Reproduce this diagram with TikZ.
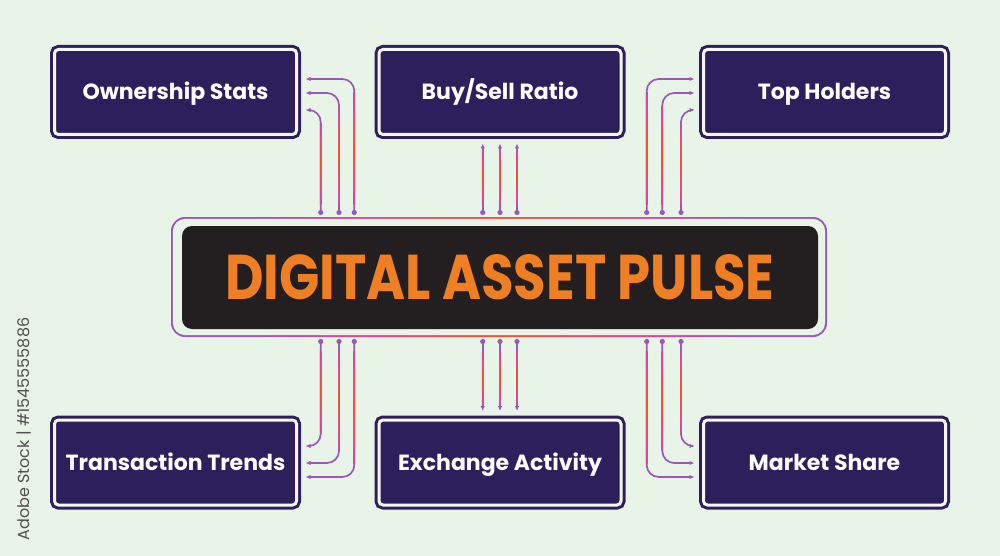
\documentclass[tikz,border=0pt]{standalone}
\usepackage{fontspec}
\usepackage{graphicx}
\setmainfont{Poppins}
\usetikzlibrary{arrows.meta,calc}
\definecolor{bg}{HTML}{E9F4E9}
\definecolor{boxc}{HTML}{2D1F5C}
\definecolor{gapc}{HTML}{F6F7F6}
\definecolor{blk}{HTML}{231F20}
\definecolor{orng}{HTML}{EF7F22}
\definecolor{cpurple}{HTML}{9B59B6}
\definecolor{cpink}{HTML}{E94590}
\definecolor{cred}{HTML}{F2552E}
\definecolor{wmc}{HTML}{505050}
\pgfdeclarehorizontalshading{frameshade}{100bp}{color(0bp)=(cpurple); color(31bp)=(cpurple); color(40bp)=(cpink); color(50bp)=(cred); color(60bp)=(cpink); color(69bp)=(cpurple); color(100bp)=(cpurple)}
\pgfdeclareverticalshading{connshade}{100bp}{color(0bp)=(cpurple); color(18bp)=(cpurple); color(33bp)=(cpink); color(50bp)=(cred); color(67bp)=(cpink); color(82bp)=(cpurple); color(100bp)=(cpurple)}
\begin{document}
\begin{tikzpicture}[x=1pt,y=-1pt,
  box/.style={draw=boxc, line width=3pt, double=gapc, double distance=3pt, fill=boxc,
    rounded corners=4pt, minimum width=242pt, minimum height=85pt, inner sep=0pt,
    outer sep=9pt, text=white, text height=16pt, text depth=0pt,
    font=\bfseries\fontsize{22}{26}\selectfont},
  conn/.style={cpurple, line width=1.7pt, rounded corners=12pt,
    -{Latex[length=5pt,width=4.5pt]}},
  dotc/.style={fill=cpurple}
]
\useasboundingbox (0,0) rectangle (1000,556);
\fill[bg] (0,0) rectangle (1000,556);

% central frame and title
\node[shade, shading=frameshade, rounded corners=14pt, minimum width=656pt,
  minimum height=120pt, inner sep=0pt, outer sep=4.5pt] (frame) at (499,277) {};
\node[fill=bg, rounded corners=12.2pt, minimum width=652.2pt, minimum height=116.2pt,
  inner sep=0pt] (framein) at (frame.center) {};
\node[fill=blk, rounded corners=10pt, minimum width=636pt, minimum height=103pt,
  inner sep=0pt] (title) at (500,277.5)
  {\resizebox{549pt}{45pt}{\color{orng}\bfseries DIGITAL ASSET PULSE}};

% boxes
\node[box] (own)   at (175.5,92)  {Ownership Stats};
\node[box] (buy)   at (500,92)    {Buy/Sell Ratio};
\node[box] (top)   at (824.5,92)  {Top Holders};
\node[box] (trans) at (175.5,462.5) {Transaction Trends};
\node[box] (exch)  at (500,462.5)   {Exchange Activity};
\node[box] (mkt)   at (824.5,462.5) {Market Share};

% top-left connectors
\foreach \x/\y in {320.7/110, 339/93, 354.3/79} {
  \draw[conn] (frame.north -| \x,0) |- (own.east |- 0,\y);
  \shade[shading=connshade] (\x-0.85,204) rectangle (\x+0.85,\y+14);
  \fill[dotc] (frame.north -| \x,0) circle (2.6pt);
}
% top-middle connectors
\foreach \x in {482.7, 500, 517} {
  \draw[conn] (frame.north -| \x,0) -- (buy.south -| \x,0);
  \shade[shading=connshade] (\x-0.85,204) rectangle (\x+0.85,150);
  \fill[dotc] (frame.north -| \x,0) circle (2.6pt);
}
% top-right connectors
\foreach \x/\y in {646.7/79, 662.3/93, 681/110} {
  \draw[conn] (frame.north -| \x,0) |- (top.west |- 0,\y);
  \shade[shading=connshade] (\x-0.85,204) rectangle (\x+0.85,\y+14);
  \fill[dotc] (frame.north -| \x,0) circle (2.6pt);
}
% bottom-left connectors
\foreach \x/\y in {320.7/446, 339/463, 354.3/477} {
  \draw[conn] (frame.south -| \x,0) |- (trans.east |- 0,\y);
  \shade[shading=connshade] (\x-0.85,351) rectangle (\x+0.85,\y-14);
  \fill[dotc] (frame.south -| \x,0) circle (2.6pt);
}
% bottom-middle connectors
\foreach \x in {482.7, 500, 517} {
  \draw[conn] (frame.south -| \x,0) -- (exch.north -| \x,0);
  \shade[shading=connshade] (\x-0.85,351) rectangle (\x+0.85,405);
  \fill[dotc] (frame.south -| \x,0) circle (2.6pt);
}
% bottom-right connectors
\foreach \x/\y in {646.7/477, 662.3/463, 681/446} {
  \draw[conn] (frame.south -| \x,0) |- (mkt.west |- 0,\y);
  \shade[shading=connshade] (\x-0.85,351) rectangle (\x+0.85,\y-14);
  \fill[dotc] (frame.south -| \x,0) circle (2.6pt);
}

% side label
\node[rotate=90, text=wmc, font=\fontsize{16}{18}\selectfont, inner sep=0pt] (wm) at (24,429)
  {Adobe Stock | \#1545555886};
\end{tikzpicture}
\end{document}
